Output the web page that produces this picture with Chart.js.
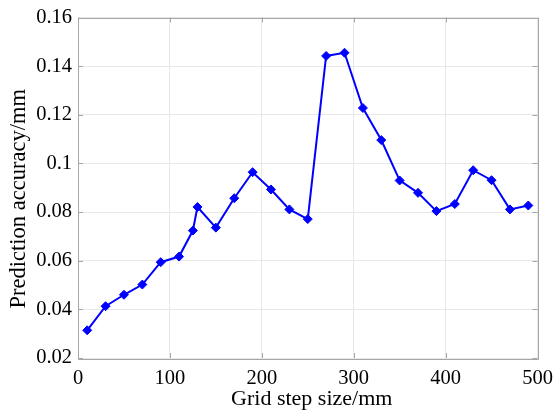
<!DOCTYPE html>
<html>
<head>
<meta charset="utf-8">
<script src="https://cdn.jsdelivr.net/npm/chart.js@4"></script>
<style>
html,body{margin:0;padding:0;background:#fff;}
#wrap{width:557px;height:412px;}
</style>
</head>
<body>
<div id="wrap"><canvas id="c" width="557" height="412"></canvas></div>
<script>
const gridStep = [10, 30, 50, 70, 90, 110, 125, 130, 150, 170, 190, 210, 230, 250, 270, 290, 310, 330, 350, 370, 390, 410, 430, 450, 470, 490];
const accuracy = [0.0314, 0.0413, 0.0460, 0.0502, 0.0594, 0.0617, 0.0724, 0.0821, 0.0736, 0.0857, 0.0964, 0.0893, 0.0811, 0.0771, 0.1442, 0.1455, 0.1228, 0.1096, 0.0930, 0.0879, 0.0804, 0.0833, 0.0972, 0.0931, 0.0811, 0.0827];
const xTicks = [0, 100, 200, 300, 400, 500];
const yTicks = [0.02, 0.04, 0.06, 0.08, 0.1, 0.12, 0.14, 0.16];
const xTitle = 'Grid step size/mm';
const yTitle = 'Prediction accuracy/mm';

const FONT = "'Liberation Serif', 'Times New Roman', serif";
const frameColor = '#a6a6a6';

const boxPlugin = {
  id: 'box',
  beforeDatasetsDraw(chart) {
    const {ctx, chartArea: a, scales} = chart;
    ctx.save();
    ctx.strokeStyle = frameColor;
    ctx.lineWidth = 1;
    const L = 5;
    ctx.beginPath();
    scales.x.ticks.forEach(t => {
      const px = Math.round(scales.x.getPixelForValue(t.value)) + 0.5;
      ctx.moveTo(px, a.bottom); ctx.lineTo(px, a.bottom - L);
      ctx.moveTo(px, a.top); ctx.lineTo(px, a.top + L);
    });
    scales.y.ticks.forEach(t => {
      const py = Math.round(scales.y.getPixelForValue(t.value)) + 0.5;
      ctx.moveTo(a.left, py); ctx.lineTo(a.left + L, py);
      ctx.moveTo(a.right, py); ctx.lineTo(a.right - L, py);
    });
    ctx.stroke();
    ctx.beginPath();
    ctx.rect(Math.round(a.left) + 0.5, Math.round(a.top) + 0.5, Math.round(a.right - a.left), Math.round(a.bottom - a.top));
    ctx.stroke();
    ctx.restore();
  },
  afterDraw(chart) {
    const {ctx, chartArea: a} = chart;
    ctx.save();
    ctx.fillStyle = '#000';
    ctx.textAlign = 'center';
    ctx.textBaseline = 'alphabetic';
    ctx.font = "22px " + FONT;
    ctx.fillText(xTitle, (a.left + a.right) / 2 + 4, 405);
    ctx.font = "22.5px " + FONT;
    ctx.translate(25, (a.top + a.bottom) / 2 + 11);
    ctx.rotate(-Math.PI / 2);
    ctx.fillText(yTitle, 0, 0);
    ctx.restore();
  }
};

new Chart(document.getElementById('c'), {
  type: 'line',
  data: {
    datasets: [{
      data: gridStep.map((x, i) => ({x: x, y: accuracy[i]})),
      borderColor: '#0000ff',
      backgroundColor: '#0000ff',
      borderWidth: 2,
      pointStyle: 'rectRot',
      pointRadius: 4.5,
      pointBorderWidth: 1,
      tension: 0,
      fill: false
    }]
  },
  options: {
    responsive: false,
    animation: false,
    devicePixelRatio: 1,
    layout: {padding: {top: 17.5, right: 19.5, left: 0, bottom: 0}},
    plugins: {legend: {display: false}, tooltip: {enabled: false}},
    scales: {
      x: {
        type: 'linear',
        min: 0, max: 500,
        afterBuildTicks: s => { s.ticks = xTicks.map(v => ({value: v})); },
        afterFit: s => { s.height = 54; s.paddingRight = 0; s.paddingLeft = 0; },
        grid: {color: '#e8e8e8', drawTicks: false},
        border: {display: false},
        ticks: {
          padding: 8,
          color: '#000',
          font: {family: FONT, size: 20.5},
          maxRotation: 0,
          callback: v => String(v)
        },
        title: {display: false}
      },
      y: {
        type: 'linear',
        min: 0.02, max: 0.16,
        afterBuildTicks: s => { s.ticks = yTicks.map(v => ({value: v})); },
        afterFit: s => { s.width = 78; s.paddingTop = 0; s.paddingBottom = 0; },
        grid: {color: '#e8e8e8', drawTicks: false},
        border: {display: false},
        ticks: {
          padding: 6,
          color: '#000',
          font: {family: FONT, size: 20.5},
          callback: v => String(Number(v.toFixed(2)))
        },
        title: {display: false}
      }
    }
  },
  plugins: [boxPlugin]
});
</script>
</body>
</html>
